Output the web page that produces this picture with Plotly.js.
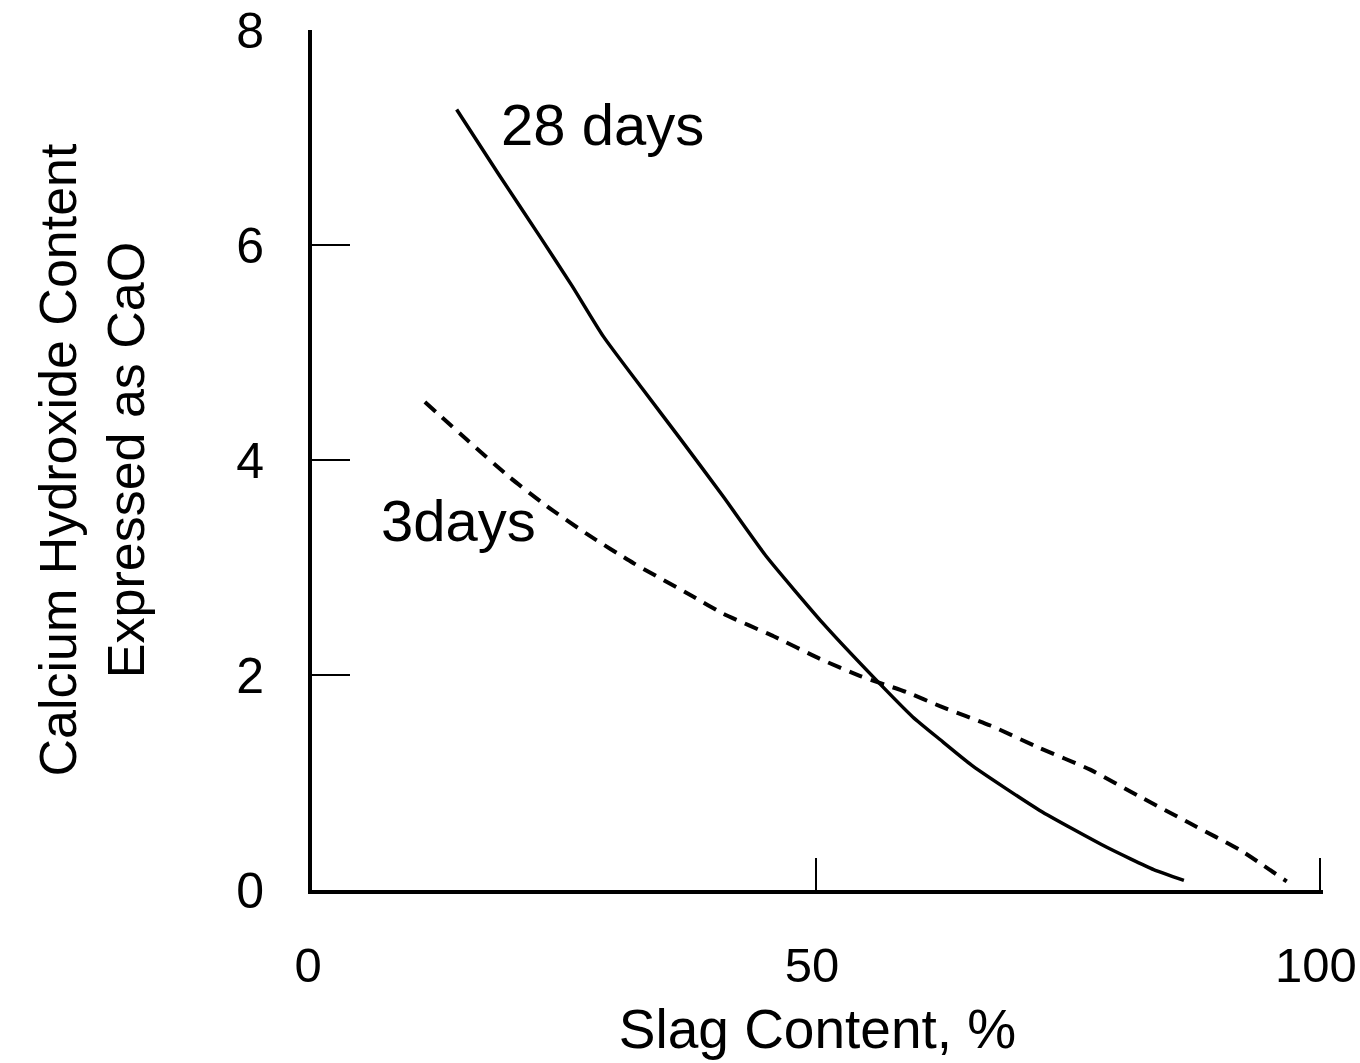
<!DOCTYPE html>
<html>
<head>
<meta charset="utf-8">
<script src="https://cdn.plot.ly/plotly-3.0.1.min.js"></script>
<style>html,body{margin:0;padding:0;background:#fff;}#chart{width:1360px;height:1063px;}</style>
</head>
<body>
<div id="chart"></div>
<script>
// Slag content (%) and calcium hydroxide content expressed as CaO
const slag28 = [14.35, 18.5, 22.6, 25.8, 28.9, 32.8, 36.6, 40.8, 45.1, 50.7, 55.7, 59.6, 62.3, 65.6, 72.2, 78.8, 83.5, 86.5];
const cao28  = [7.26, 6.66, 6.08, 5.62, 5.15, 4.66, 4.19, 3.66, 3.10, 2.48, 1.98, 1.61, 1.40, 1.15, 0.74, 0.40, 0.19, 0.09];

const slag3 = [11.2, 15.35, 19.6, 23.3, 27.3, 31.9, 37.8, 40.8, 45.8, 50.4, 54.4, 59.0, 62.3, 67.3, 72.2, 77.2, 82.1, 87.1, 92.1, 96.7];
const cao3  = [4.54, 4.19, 3.84, 3.57, 3.31, 3.04, 2.73, 2.57, 2.36, 2.15, 1.99, 1.84, 1.71, 1.53, 1.32, 1.12, 0.87, 0.62, 0.37, 0.08];

const xTicks = [0, 50, 100];
const yTicks = [0, 2, 4, 6, 8];

const seriesLabels = ["28 days", "3days"];
const labelPos = [[18.6, 7.12], [6.6, 3.44]];

const FONT = "Liberation Sans, Arial, sans-serif";

const traces = [
  {x: slag28, y: cao28, mode: "lines", name: seriesLabels[0], line: {color: "#000", width: 3.5, shape: "spline", smoothing: 0.5}, showlegend: false},
  {x: slag3, y: cao3, mode: "lines", name: seriesLabels[1], line: {color: "#000", width: 4, dash: "14px,9px", shape: "spline", smoothing: 0.5}, showlegend: false}
];

const layout = {
  width: 1360, height: 1063,
  paper_bgcolor: "#fff", plot_bgcolor: "#fff",
  margin: {l: 312, r: 37, t: 30, b: 173},
  font: {family: FONT, color: "#000"},
  xaxis: {
    range: [0, 100.3], tickvals: xTicks, ticktext: xTicks.map(String),
    ticks: "inside", ticklen: 32, tickwidth: 2, tickcolor: "#000",
    showline: true, linewidth: 4, linecolor: "#000",
    showgrid: false, zeroline: false,
    tickfont: {size: 49, family: FONT, color: "#000"},
    ticklabelstandoff: 29, ticklabelshift: -4,
    title: {text: "Slag Content, %", font: {size: 55, family: FONT, color: "#000"}, standoff: 20}
  },
  yaxis: {
    range: [0, 8], tickvals: yTicks, ticktext: yTicks.map(String),
    ticks: "inside", ticklen: 38, tickwidth: 2, tickcolor: "#000",
    showline: true, linewidth: 4, linecolor: "#000",
    showgrid: false, zeroline: false,
    tickfont: {size: 50, family: FONT, color: "#000"},
    ticklabelstandoff: 34,
    title: {text: "Calcium Hydroxide Content<br>Expressed as CaO", font: {size: 52, family: FONT, color: "#000"}, standoff: 76}
  },
  annotations: seriesLabels.map((t, i) => ({
    x: labelPos[i][0], y: labelPos[i][1], xref: "x", yref: "y",
    text: t, showarrow: false, xanchor: "left", yanchor: "middle",
    font: {size: 58, family: FONT, color: "#000"}
  })),
  showlegend: false
};

Plotly.newPlot("chart", traces, layout, {displayModeBar: false, staticPlot: true});
</script>
</body>
</html>
